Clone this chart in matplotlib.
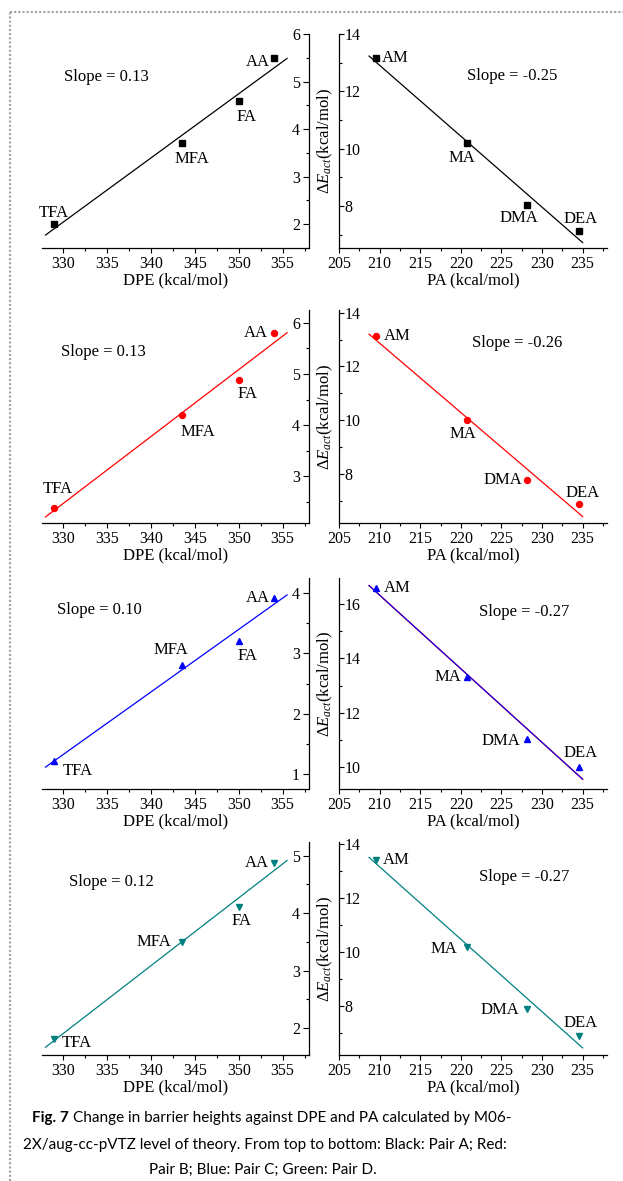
import matplotlib
matplotlib.use("Agg")
import matplotlib.pyplot as plt
from matplotlib.ticker import MultipleLocator
from matplotlib.lines import Line2D
import numpy as np

plt.rcParams["font.family"] = ["Liberation Serif", "DejaVu Serif"]
plt.rcParams["mathtext.fontset"] = "custom"
plt.rcParams["mathtext.rm"] = "Liberation Serif"
plt.rcParams["mathtext.it"] = "Liberation Serif:italic"

W, H = 623, 1181

# acids (x: DPE) and bases (x: PA)
acids = ["TFA", "MFA", "FA", "AA"]
dpe = [329.0, 343.5, 350.0, 354.0]
bases = ["AM", "MA", "DMA", "DEA"]
pa = [209.5, 220.8, 228.2, 234.5]

# barrier heights, kcal/mol (pairs A..D, top to bottom)
acid_barrier_a = [2.00, 3.70, 4.60, 5.50]
acid_barrier_b = [2.39, 4.19, 4.89, 5.80]
acid_barrier_c = [1.21, 2.81, 3.21, 3.92]
acid_barrier_d = [1.81, 3.50, 4.10, 4.88]
base_barrier_a = [13.15, 10.19, 8.03, 7.14]
base_barrier_b = [13.14, 10.00, 7.78, 6.88]
base_barrier_c = [16.59, 13.32, 11.04, 10.00]
base_barrier_d = [13.43, 10.18, 7.90, 6.89]

slopes_dpe = ["0.13", "0.13", "0.10", "0.12"]
slopes_pa = ["-0.25", "-0.26", "-0.27", "-0.27"]

acid_rows = [acid_barrier_a, acid_barrier_b, acid_barrier_c, acid_barrier_d]
base_rows = [base_barrier_a, base_barrier_b, base_barrier_c, base_barrier_d]
colors = ["black", "red", "blue", "#008080"]
markers = ["s", "o", "^", "v"]

# layout (pixels, y from top)
left_x = (42, 309)
right_x = (339, 607)
row_tb = [(34, 248), (310, 523), (578, 789), (842, 1055)]
left_ylim = [(1.5, 6.0), (2.09, 6.25), (0.75, 4.25), (1.53, 5.24)]
right_ylim = [(6.53, 14.0), (6.18, 14.1), (9.2, 16.95), (6.18, 14.08)]
left_yticks = [[2, 3, 4, 5, 6], [3, 4, 5, 6], [1, 2, 3, 4], [2, 3, 4, 5]]
right_yticks = [[8, 10, 12, 14], [8, 10, 12, 14], [10, 12, 14, 16], [8, 10, 12, 14]]

# label offsets in pixels (dx, dy downwards, ha)
acid_offs = [
    [(0, -11, "center"), (10, 16, "center"), (8, 16, "center"), (-4, 4, "right")],
    [(4, -19, "center"), (16, 17, "center"), (9, 14, "center"), (-6, 0, "right")],
    [(8, 10, "left"), (-11, -15, "center"), (9, 15, "center"), (-4, 0, "right")],
    [(7, 4, "left"), (-10, 0, "right"), (3, 14, "center"), (-5, 0, "right")],
]
base_offs = [
    [(6, 0, "left"), (-5, 15, "center"), (-9, 13, "center"), (2, -12, "center")],
    [(8, 0, "left"), (-4, 14, "center"), (-5, 0, "right"), (4, -11, "center")],
    [(8, 0, "left"), (-6, 0, "right"), (-7, 2, "right"), (2, -14, "center")],
    [(7, 0, "left"), (-10, 2, "right"), (-8, 1, "right"), (2, -13, "center")],
]
slope_pos = [[(106, 77), (512, 76)], [(103, 352), (517, 343)],
             [(99, 610), (524, 612)], [(111, 882), (524, 877)]]

FS = 12
TFS = 11.5


def rect(xs, tb):
    return [xs[0] / W, 1 - tb[1] / H, (xs[1] - xs[0]) / W, (tb[1] - tb[0]) / H]


def style_x(ax):
    ax.xaxis.set_minor_locator(MultipleLocator(2.5))
    ax.tick_params(axis="x", which="major", direction="out", length=3.5,
                   width=0.8, labelsize=TFS, pad=2.5)
    ax.tick_params(axis="x", which="minor", direction="out", length=2,
                   width=0.8)


fig = plt.figure(figsize=(W / 100, H / 100), dpi=100)

for i in range(4):
    c = colors[i]
    # ---- left panel: barrier vs DPE, y axis on the right
    ax = fig.add_axes(rect(left_x, row_tb[i]))
    ax.set_xlim(327.6, 358.0)
    ax.set_ylim(*left_ylim[i])
    ax.spines[["top", "left"]].set_visible(False)
    ax.spines[["right", "bottom"]].set_linewidth(0.9)
    ax.yaxis.tick_right()
    ax.set_xticks([330, 335, 340, 345, 350, 355])
    ax.set_yticks(left_yticks[i])
    ax.yaxis.set_minor_locator(MultipleLocator(0.5))
    style_x(ax)
    ax.tick_params(axis="y", which="major", direction="in", length=4.5,
                   width=0.8, labelsize=TFS, pad=-6.5)
    ax.tick_params(axis="y", which="minor", direction="in", length=2.5,
                   width=0.8)
    plt.setp(ax.get_yticklabels(), ha="right")
    k, b = np.polyfit(dpe, acid_rows[i], 1)
    xf = np.array([328.0, 355.5])
    ax.plot(xf, k * xf + b, color=c, lw=0.9)
    ax.plot(dpe, acid_rows[i], ls="none", marker=markers[i], color=c, ms=4.3)
    for name, x, y, (dx, dy, ha) in zip(acids, dpe, acid_rows[i], acid_offs[i]):
        ax.annotate(name, (x, y), xytext=(dx, -dy), textcoords="offset pixels",
                    ha=ha, va="center", fontsize=FS)
    ax.set_xlabel("DPE (kcal/mol)", fontsize=FS, labelpad=0)

    # ---- right panel: barrier vs PA
    ax2 = fig.add_axes(rect(right_x, row_tb[i]))
    ax2.set_xlim(205, 238)
    ax2.set_ylim(*right_ylim[i])
    ax2.spines[["top", "right"]].set_visible(False)
    ax2.spines[["left", "bottom"]].set_linewidth(0.9)
    ax2.set_xticks([205, 210, 215, 220, 225, 230, 235])
    ax2.set_yticks(right_yticks[i])
    ax2.yaxis.set_minor_locator(MultipleLocator(1))
    style_x(ax2)
    ax2.tick_params(axis="y", which="major", direction="in", length=3.5,
                    width=0.8, labelsize=TFS, pad=-4)
    ax2.tick_params(axis="y", which="minor", direction="in", length=2,
                    width=0.8)
    plt.setp(ax2.get_yticklabels(), ha="left")
    k, b = np.polyfit(pa, base_rows[i], 1)
    xf = np.array([208.7, 235.0])
    if c == "blue":
        ax2.plot(xf, k * xf + b, color="red", lw=1.0)
        ax2.plot(xf, k * xf + b, color="blue", lw=0.8)
    else:
        ax2.plot(xf, k * xf + b, color=c, lw=0.9)
    ax2.plot(pa, base_rows[i], ls="none", marker=markers[i], color=c, ms=4.3)
    for name, x, y, (dx, dy, ha) in zip(bases, pa, base_rows[i], base_offs[i]):
        ax2.annotate(name, (x, y), xytext=(dx, -dy), textcoords="offset pixels",
                     ha=ha, va="center", fontsize=FS)
    ax2.set_xlabel("PA (kcal/mol)", fontsize=FS, labelpad=0)
    ax2.set_ylabel(r"$\mathit{\Delta E}_{\mathit{act}}$(kcal/mol)", fontsize=FS,
                   va="center", ha="center")
    ax2.yaxis.set_label_coords(-0.052, 0.5)

    for (px, py), s in zip(slope_pos[i], [slopes_dpe[i], slopes_pa[i]]):
        fig.text(px / W, 1 - py / H, "Slope = " + s, ha="center", va="center",
                 fontsize=FS)

# page border (dotted)
fig.add_artist(Line2D([10 / W, 10 / W], [0, 1 - 12 / H], transform=fig.transFigure,
                      color="#a0a0a0", lw=1.5, ls=(0, (1, 1))))
fig.add_artist(Line2D([10 / W, 1], [1 - 12 / H, 1 - 12 / H], transform=fig.transFigure,
                      color="#a0a0a0", lw=1.5, ls=(0, (1, 1))))

# caption
cap_font = ["Lato", "DejaVu Sans"]
cfs = 10.95
t0 = fig.text(32 / W, 1 - 1118 / H, "Fig. 7", fontsize=cfs, fontweight="bold",
              family=cap_font, ha="left", va="center")
fig.canvas.draw()
bb = t0.get_window_extent()
fig.text((bb.x1 + 4) / W, 1 - 1118 / H,
         "Change in barrier heights against DPE and PA calculated by M06-",
         fontsize=cfs, family=cap_font, ha="left", va="center")
fig.text(265 / W, 1 - 1145 / H,
         "2X/aug-cc-pVTZ level of theory. From top to bottom: Black: Pair A; Red:",
         fontsize=cfs, family=cap_font, ha="center", va="center")
fig.text(263 / W, 1 - 1170 / H, "Pair B; Blue: Pair C; Green: Pair D.",
         fontsize=cfs, family=cap_font, ha="center", va="center")

fig.savefig("out.png", dpi=100)
